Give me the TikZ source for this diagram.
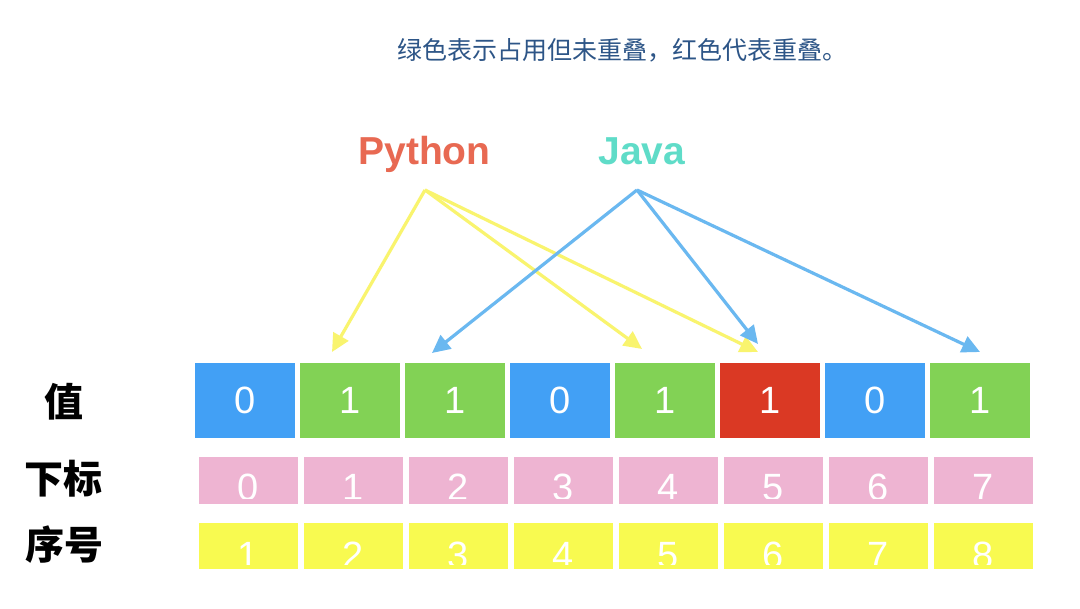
\documentclass[tikz,border=0pt]{standalone}
\usepackage{fontspec}
\setmainfont{Liberation Sans}
\setsansfont{Liberation Sans}
\newfontfamily\cjk{Noto Sans CJK SC}
\usetikzlibrary{arrows.meta,calc}
\definecolor{boxblue}{HTML}{42A0F5}
\definecolor{boxgreen}{HTML}{82D255}
\definecolor{boxred}{HTML}{DA3924}
\definecolor{boxpink}{HTML}{EEB4D2}
\definecolor{boxyellow}{HTML}{F8FA50}
\definecolor{arryellow}{HTML}{F9F46E}
\definecolor{arrblue}{HTML}{6AB8F0}
\definecolor{pycol}{HTML}{E86952}
\definecolor{javacol}{HTML}{5FDCC8}
\definecolor{titlecol}{HTML}{2D5587}
\tikzset{
  valbox/.style={minimum width=100pt,minimum height=75pt,inner sep=0pt,text=white,font=\fontsize{38}{38}\selectfont},
  idxbox/.style={fill=boxpink,minimum width=99pt,minimum height=47pt,inner sep=0pt},
  seqbox/.style={fill=boxyellow,minimum width=99pt,minimum height=46pt,inner sep=0pt},
  digit/.style={text=white,inner sep=0pt,anchor=base,font=\fontsize{38}{38}\selectfont},
  rowlabel/.style={font=\cjk\bfseries\fontsize{39}{39}\selectfont,inner sep=0pt},
  pyarrow/.style={draw=arryellow,line width=3.2pt,-{Triangle[length=18pt,width=17pt]}},
  javaarrow/.style={draw=arrblue,line width=3.2pt,-{Triangle[length=18pt,width=17pt]}}
}
\begin{document}
\begin{tikzpicture}[x=1pt,y=-1pt]
\fill[white] (0,0) rectangle (1080,609);
\useasboundingbox (0,0) rectangle (1080,609);

% title
\node[text=titlecol,font=\cjk\fontsize{25}{25}\selectfont,inner sep=0pt] (title) at (622,50) {绿色表示占用但未重叠，红色代表重叠。};

% language labels
\node[text=pycol,font=\bfseries\fontsize{39}{39}\selectfont,anchor=base,inner sep=0pt] (python) at (424.5,165) {Python};
\node[text=javacol,font=\bfseries\fontsize{39}{39}\selectfont,anchor=base,inner sep=0pt] (java) at (642,165) {Java};
\coordinate (pys) at (425,190);
\coordinate (jas) at (637,190);

% row labels
\node[rowlabel] (lval) at (64,402) {值};
\node[rowlabel] (lidx) at (63,479) {下标};
\node[rowlabel] (lseq) at (64,545) {序号};

% value row
\foreach \v/\c [count=\i from 0] in {0/boxblue,1/boxgreen,1/boxgreen,0/boxblue,1/boxgreen,1/boxred,0/boxblue,1/boxgreen}{
  \node[valbox,fill=\c] (v\i) at ({245+105*\i},400.5) {\v};
}

% index row and sequence row
\foreach \i in {0,...,7}{
  \node[idxbox] (p\i) at ({248.5+105*\i},480.5) {};
  \begin{scope}
    \clip (p\i.north west) rectangle ($(p\i.south east)+(0,-6)$);
    \node[digit] (pt\i) at ($(p\i.south)+(0,-4)$) {\i};
  \end{scope}
  \pgfmathtruncatemacro{\s}{\i+1}
  \node[seqbox] (s\i) at ({248.5+105*\i},546) {};
  \begin{scope}
    \clip (s\i.north west) rectangle ($(s\i.south east)+(0,-5)$);
    \node[digit] (st\i) at ($(s\i.south)+(0,-1)$) {\s};
  \end{scope}
}

% arrow targets
\coordinate (py1) at (332,352);
\coordinate (py2) at (642,349);
\coordinate (py3) at (758,352);
\coordinate (ja1) at (432,353);
\coordinate (ja2) at (758,344);
\coordinate (ja3) at (980,352);

\draw[pyarrow] (pys) -- (py1);
\draw[pyarrow] (pys) -- (py2);
\draw[pyarrow] (pys) -- (py3);
\draw[javaarrow] (jas) -- (ja1);
\draw[javaarrow] (jas) -- (ja2);
\draw[javaarrow] (jas) -- (ja3);
\end{tikzpicture}
\end{document}
